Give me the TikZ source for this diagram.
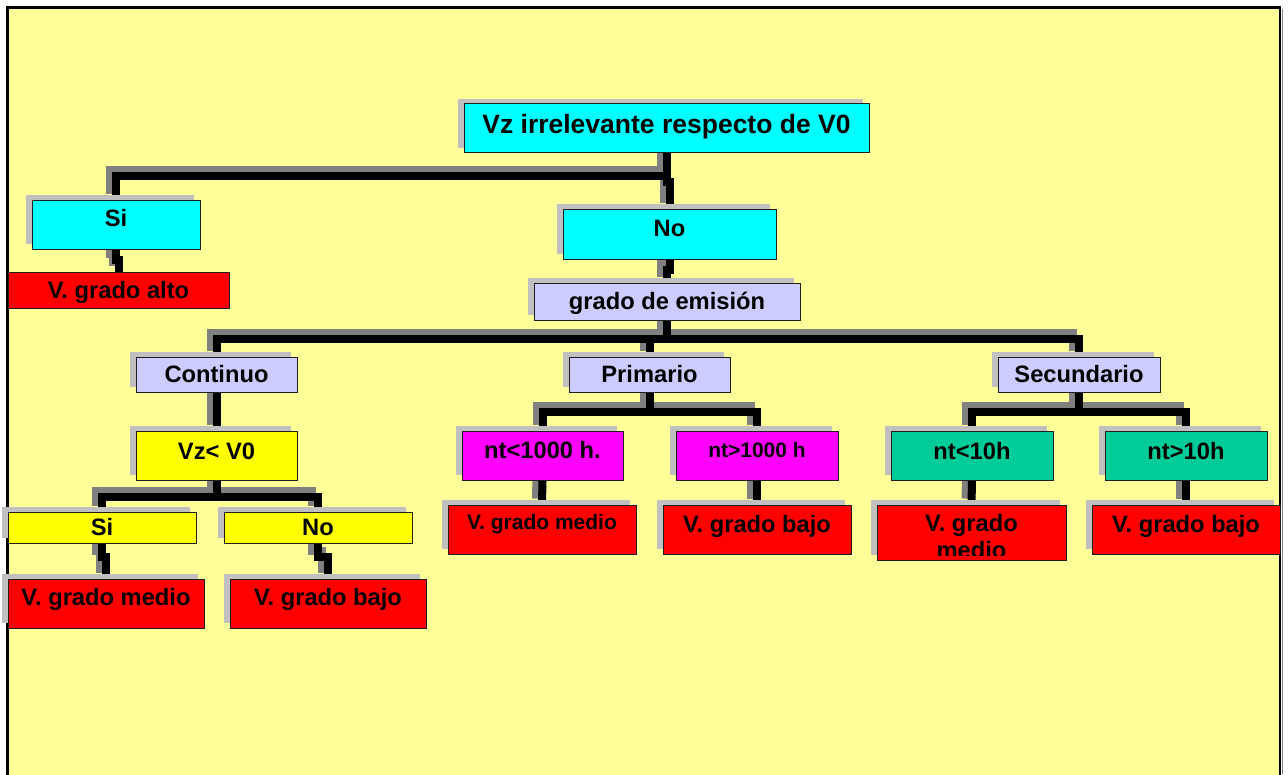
\documentclass[tikz,border=0pt]{standalone}
\usepackage{fontspec}
\setmainfont{Liberation Sans}
\usetikzlibrary{shadows}
\pgfdeclarelayer{frame}
\pgfdeclarelayer{lines}
\pgfsetlayers{frame,lines,main}
\definecolor{bgyellow}{HTML}{FFFF99}
\definecolor{cyanb}{HTML}{00FFFF}
\definecolor{lav}{HTML}{CCCCFF}
\definecolor{yel}{HTML}{FFFF00}
\definecolor{mag}{HTML}{FF00FF}
\definecolor{tealb}{HTML}{00CC99}
\definecolor{redb}{HTML}{FF0000}
\definecolor{boxsh}{RGB}{192,192,192}
\definecolor{linesh}{RGB}{128,128,128}
\definecolor{boxline}{RGB}{30,30,30}
\tikzset{
  boxbase/.style={draw=boxline, line width=0.9pt, inner sep=0pt, text depth=0pt},
  box/.style={boxbase, drop shadow={shadow xshift=-6pt, shadow yshift=5pt, fill=boxsh, opacity=1}},
  fA/.style={font=\fontsize{23.7}{27}\selectfont\bfseries, text height=16.97pt},
  fB/.style={font=\fontsize{26.5}{30}\selectfont\bfseries, text height=18.97pt},
  fC/.style={font=\fontsize{21}{25}\selectfont\bfseries, text height=15.04pt},
  lift/.style={text depth=#1},
  sz/.style 2 args={minimum width=#1pt, minimum height=#2pt},
  shline/.style={draw=linesh, line width=8pt, transform canvas={shift={(-6pt,6pt)}}},
  bkline/.style={draw=black, line width=8pt},
}
\newcommand\myconns[1]{%
  \draw[#1] (top.south) -- ++(0,23.5) -| (si1.north);
  \draw[#1] (top.south) -- ++(0,29) -| (no1.north);
  \draw[#1] (si1.south) -- ++(0,11) -| (alto.north);
  \draw[#1] (no1.south) -- ++(0,11) -| (grado.north);
  \draw[#1] (grado.south) -- ++(0,19) -| (cont.north);
  \draw[#1] (grado.south) -- ++(0,19) -| (prim.north);
  \draw[#1] (grado.south) -- ++(0,19) -| (sec.north);
  \draw[#1] (cont.south) -- (vz.north);
  \draw[#1] (vz.south) -- ++(0,16.5) -| (si2.north);
  \draw[#1] (vz.south) -- ++(0,16.5) -| (no2.north);
  \draw[#1] (si2.south) -- ++(0,13.5) -| (med1.north);
  \draw[#1] (no2.south) -- ++(0,13.5) -| (baj1.north);
  \draw[#1] (prim.south) -- ++(0,20) -| (nt1.north);
  \draw[#1] (prim.south) -- ++(0,20) -| (nt2.north);
  \draw[#1] (nt1.south) -- (med2.north);
  \draw[#1] (nt2.south) -- (baj2.north);
  \draw[#1] (sec.south) -- ++(0,20) -| (nt3.north);
  \draw[#1] (sec.south) -- ++(0,20) -| (nt4.north);
  \draw[#1] (nt3.south) -- (med3.north);
  \draw[#1] (nt4.south) -- (baj3.north);
}
\begin{document}
\begin{tikzpicture}[x=1pt,y=-1pt]
\useasboundingbox (0,0) rectangle (1288,774);
\begin{pgfonlayer}{frame}
  \fill[white] (0,0) rectangle (1288,774);
  \draw[fill=bgyellow, line width=2.5pt] (7.5,7.5) rectangle (1280,800);
  \draw[linesh, line width=1.5pt] (1282.5,9) -- (1282.5,774);
\end{pgfonlayer}

% level 0
\node[box, fill=cyanb, fB, sz={405}{49}, lift=8pt] (top) at (666.5,128) {Vz irrelevante respecto de V0};
% level 1
\node[box, fill=cyanb, fA, sz={168}{49}, lift=13pt] (si1) at (116,224.5) {Si};
\node[box, fill=cyanb, fA, sz={213}{50}, lift=11pt] (no1) at (669.5,234) {No};
\node[boxbase, fill=redb, fA, sz={221}{36}] (alto) at (118.5,290) {V. grado alto};
\node[box, fill=lav, fA, sz={266}{37}] (grado) at (667,301.5) {grado de emisión};
% level 2
\node[box, fill=lav, fA, sz={161}{35}] (cont) at (216.5,374.5) {Continuo};
\node[box, fill=lav, fA, sz={161}{35}] (prim) at (649.5,374.5) {Primario};
\node[box, fill=lav, fA, sz={162}{35}] (sec) at (1079,374.5) {Secundario};
% continuo branch
\node[box, fill=yel, fA, sz={161}{49}, lift=8pt] (vz) at (216.5,455.5) {Vz< V0};
\node[box, fill=yel, fA, sz={188}{31}] (si2) at (102,527.5) {Si};
\node[box, fill=yel, fA, sz={188}{31}] (no2) at (318,527.5) {No};
\node[box, fill=redb, fA, sz={196}{49}, lift=12pt] (med1) at (106,603.5) {V. grado medio};
\node[box, fill=redb, fA, sz={196}{49}, lift=12pt] (baj1) at (328,603.5) {V. grado bajo};
% primario branch
\node[box, fill=mag, fA, sz={161}{49}, lift=10pt] (nt1) at (542.5,455.5) {nt<1000 h.};
\node[box, fill=mag, fC, sz={162}{49}, lift=12pt] (nt2) at (757,455.5) {nt>1000 h};
\node[box, fill=redb, fC, sz={188}{49}, lift=15pt] (med2) at (542,529.5) {V. grado medio};
\node[box, fill=redb, fA, sz={188}{49}, lift=11pt] (baj2) at (757,529.5) {V. grado bajo};
% secundario branch
\node[box, fill=tealb, fA, sz={162}{49}, lift=9pt] (nt3) at (972,455.5) {nt<10h};
\node[box, fill=tealb, fA, sz={162}{49}, lift=9pt] (nt4) at (1186,455.5) {nt>10h};
\node[box, fill=redb, sz={189}{55}] (med3) at (971.5,532.5) {};
\begin{scope}
  \clip ([yshift=5pt]med3.south west) rectangle (med3.north east);
  \node[fA, anchor=base, inner sep=0pt] (med3a) at ([yshift=-27pt]med3.north) {V. grado};
  \node[fA, anchor=base, inner sep=0pt] (med3b) at ([yshift=-54pt]med3.north) {medio};
\end{scope}
\node[box, fill=redb, fA, sz={188}{49}, lift=11pt] (baj3) at (1186,529.5) {V. grado bajo};

\begin{pgfonlayer}{lines}
  \myconns{shline}
  \myconns{bkline}
\end{pgfonlayer}
\end{tikzpicture}
\end{document}
